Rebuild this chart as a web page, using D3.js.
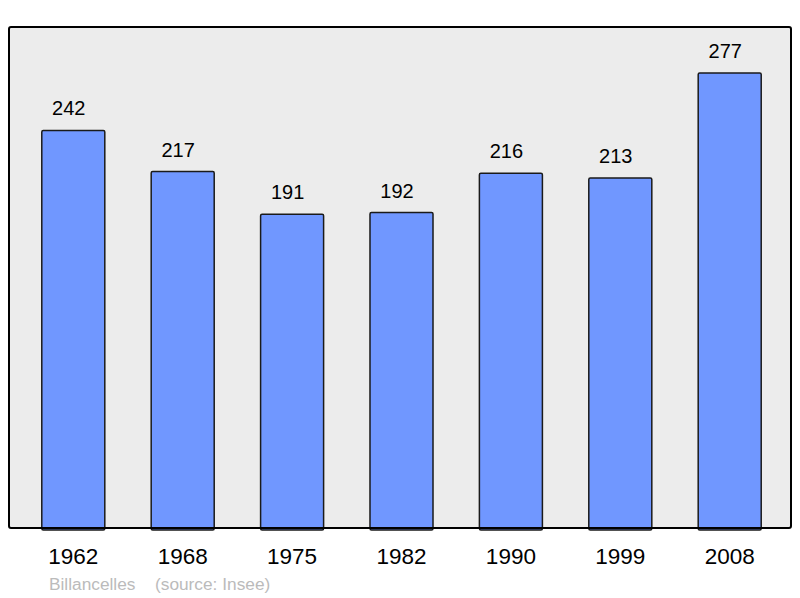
<!DOCTYPE html>
<html>
<head>
<meta charset="utf-8">
<script src="https://cdn.jsdelivr.net/npm/d3@7"></script>
<style>
  body { margin: 0; background: #fff; }
  text { font-family: "Liberation Sans", Arial, sans-serif; }
</style>
</head>
<body>
<svg id="chart" width="800" height="598"></svg>
<script>
// population by census year
var years = ["1962", "1968", "1975", "1982", "1990", "1999", "2008"]
var population = [242, 217, 191, 192, 216, 213, 277]
var commune = "Billancelles"
var source = "(source: Insee)"

var svg = d3.select("#chart")

var box = { left: 9, top: 27, right: 791, bottom: 528 }

var x = d3.scaleBand()
    .domain(years)
    .range([box.left + 1.5, box.right + 1.5])
    .paddingInner(0.424)
    .paddingOuter(0.286)

var y = d3.scaleLinear()
    .domain([0, 305])
    .range([box.bottom, box.top])

var data = years.map(function (d, i) { return { year: d, value: population[i] } })

// plot background
svg.append("rect")
    .attr("x", box.left).attr("y", box.top)
    .attr("width", box.right - box.left).attr("height", box.bottom - box.top)
    .attr("rx", 2).attr("ry", 2)
    .style("fill", "#ececec")

svg.selectAll("rect.bar")
    .data(data)
    .enter().append("rect")
    .attr("class", "bar")
    .attr("x", function (d) { return x(d.year) })
    .attr("y", function (d) { return y(d.value) })
    .attr("width", x.bandwidth())
    .attr("height", function (d) { return y(0) - y(d.value) + 2 })
    .attr("rx", 1.5).attr("ry", 1.5)
    .style("fill", "#7097ff")
    .style("stroke", "#1a1a1a")
    .style("stroke-width", 1.5)

// frame drawn over bars
svg.append("rect")
    .attr("x", box.left).attr("y", box.top)
    .attr("width", box.right - box.left).attr("height", box.bottom - box.top)
    .attr("rx", 2).attr("ry", 2)
    .style("fill", "none")
    .style("stroke", "#000")
    .style("stroke-width", 2)

// value labels sit a little left of the bar centre
svg.selectAll("text.value")
    .data(data)
    .enter().append("text")
    .attr("class", "value")
    .attr("x", function (d) { return x(d.year) + x.bandwidth() / 2 - 4.5 })
    .attr("y", function (d) { return y(d.value) - 15 })
    .attr("text-anchor", "middle")
    .style("font-size", "20px")
    .style("fill", "#000")
    .text(function (d) { return d.value })

var xAxis = svg.append("g")
    .attr("transform", "translate(0," + box.bottom + ")")
    .call(d3.axisBottom(x).tickSize(0).tickPadding(0))
xAxis.select(".domain").remove()
xAxis.selectAll("text")
    .attr("dy", null)
    .attr("y", 36)
    .style("font-family", "'Liberation Sans', Arial, sans-serif")
    .style("font-size", "22.5px")
    .style("fill", "#000")

svg.append("text")
    .attr("x", 49).attr("y", 590)
    .style("font-size", "17.3px")
    .style("fill", "#bbbbbb")
    .text(commune)

svg.append("text")
    .attr("x", 155).attr("y", 590)
    .style("font-size", "17.3px")
    .style("fill", "#bbbbbb")
    .text(source)
</script>
</body>
</html>
